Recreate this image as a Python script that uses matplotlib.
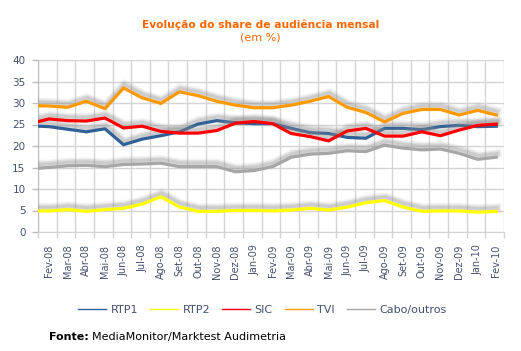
import numpy as np
import matplotlib
matplotlib.use("Agg")
import matplotlib.pyplot as plt
import matplotlib.patheffects as pe

# first entry (Jan-08) sits just left of the plot area and is clipped
months = ["Jan-08", "Fev-08", "Mar-08", "Abr-08", "Mai-08", "Jun-08", "Jul-08", "Ago-08",
          "Set-08", "Out-08", "Nov-08", "Dez-08", "Jan-09", "Fev-09", "Mar-09",
          "Abr-09", "Mai-09", "Jun-09", "Jul-09", "Ago-09", "Set-09", "Out-09",
          "Nov-09", "Dez-09", "Jan-10", "Fev-10"]

rtp1 = [24.7, 24.5, 23.9, 23.3, 24.0, 20.3, 21.6, 22.4, 23.3, 25.1, 25.9, 25.4, 25.2,
        25.2, 24.1, 23.1, 22.9, 22.0, 21.8, 24.1, 24.1, 23.8, 24.5, 24.8, 24.5, 24.6]
rtp2 = [4.9, 4.9, 5.2, 4.8, 5.2, 5.5, 6.5, 8.2, 5.8, 4.8, 4.8, 5.0, 5.0,
        4.9, 5.1, 5.5, 5.1, 5.8, 6.8, 7.3, 5.8, 4.8, 4.9, 4.9, 4.6, 4.8]
sic = [25.2, 26.3, 25.9, 25.8, 26.5, 24.2, 24.6, 23.4, 23.0, 23.0, 23.6, 25.3, 25.7,
       25.2, 22.9, 22.2, 21.2, 23.5, 24.1, 22.3, 22.3, 23.3, 22.4, 23.7, 24.8, 25.1]
tvi = [29.4, 29.3, 29.0, 30.4, 28.7, 33.5, 31.2, 29.9, 32.6, 31.7, 30.4, 29.5, 28.9,
       28.9, 29.5, 30.4, 31.5, 29.0, 27.8, 25.6, 27.6, 28.5, 28.5, 27.2, 28.3, 27.2]
cabo = [14.7, 15.0, 15.4, 15.5, 15.2, 15.7, 15.8, 16.0, 15.2, 15.2, 15.2, 14.0, 14.3,
        15.2, 17.4, 18.1, 18.3, 18.9, 18.7, 20.2, 19.5, 19.1, 19.3, 18.3, 16.9, 17.4]

series = [("RTP1", rtp1, "#2f6096"),
          ("RTP2", rtp2, "#ffff00"),
          ("SIC", sic, "#ff0000"),
          ("TVI", tvi, "#ff9900"),
          ("Cabo/outros", cabo, "#a6a6a6")]

txt_col = "#44506e"
grid_col = "#d4d4d4"

fig = plt.figure(figsize=(5.21, 3.51), dpi=100, facecolor="white")
ax = fig.add_axes([38 / 521, 1 - 232 / 351, 466 / 521, 172 / 351])

x = np.arange(len(months)) - 1

# soft grey shadow above each line
shadow = [
    pe.SimpleLineShadow(offset=(0.6, 2.6), shadow_color="#a0a0a0", alpha=0.13, linewidth=6.5),
    pe.SimpleLineShadow(offset=(0.6, 2.6), shadow_color="#909090", alpha=0.2, linewidth=4.2),
    pe.SimpleLineShadow(offset=(0.6, 2.6), shadow_color="#888888", alpha=0.2, linewidth=2.2),
    pe.Normal(),
]

for name, vals, col in series:
    ax.plot(x, vals, color=col, linewidth=2.3, label=name,
            solid_joinstyle="miter", path_effects=shadow, zorder=3)

ax.set_xlim(-0.59, 24.41)
ax.set_ylim(0, 40)
ax.set_yticks(np.arange(0, 41, 5))

ax.set_xticks(np.arange(25))
ax.set_xticklabels(months[1:], rotation=90)
ax.set_xticks(np.arange(-1, 25) + 0.41, minor=True)

ax.grid(True, axis="y", color=grid_col, linewidth=1)
ax.grid(True, axis="x", which="minor", color=grid_col, linewidth=1)
ax.set_axisbelow(True)

ax.tick_params(axis="x", which="major", length=0, pad=9, labelsize=7, labelcolor=txt_col)
ax.tick_params(axis="x", which="minor", length=4, color=grid_col, width=1)
ax.tick_params(axis="y", length=4, color="#bcbcbc", width=1, pad=5,
               labelsize=7.5, labelcolor=txt_col)

for s in ["top", "right"]:
    ax.spines[s].set_visible(False)
ax.spines["left"].set_color("#bcbcbc")
ax.spines["bottom"].set_color(grid_col)
ax.set_facecolor("white")

fig.text(0.5, 1 - 25 / 351, "Evolução do share de audiência mensal", ha="center",
         va="center", color="#ff6600", fontsize=7.7, fontweight="bold")
fig.text(0.5, 1 - 37.5 / 351, "(em %)", ha="center", va="center",
         color="#ff6600", fontsize=8)

labels = [s[0] for s in series]
leg_handles = [plt.Line2D([], [], color=c, linewidth=1) for _, _, c in series]
leg = fig.legend(leg_handles, labels, loc="center", bbox_to_anchor=(262.5 / 521, 1 - 310 / 351),
                 ncol=5, frameon=False, fontsize=8, handlelength=2.5, handletextpad=0.4,
                 columnspacing=1.1, borderpad=0)
for t in leg.get_texts():
    t.set_color(txt_col)

# source line: bold "Fonte:" followed by regular text
fig.canvas.draw()
r = fig.canvas.get_renderer()
t1 = fig.text(49 / 521, 1 - 337 / 351, "Fonte:", fontsize=8, fontweight="bold",
              color="black", va="center", ha="left")
bb = t1.get_window_extent(renderer=r)
fig.text((bb.x1 + 3) / 521, 1 - 337 / 351, "MediaMonitor/Marktest Audimetria",
         fontsize=8, color="black", va="center", ha="left")

fig.savefig("out.png", dpi=100, facecolor="white")
